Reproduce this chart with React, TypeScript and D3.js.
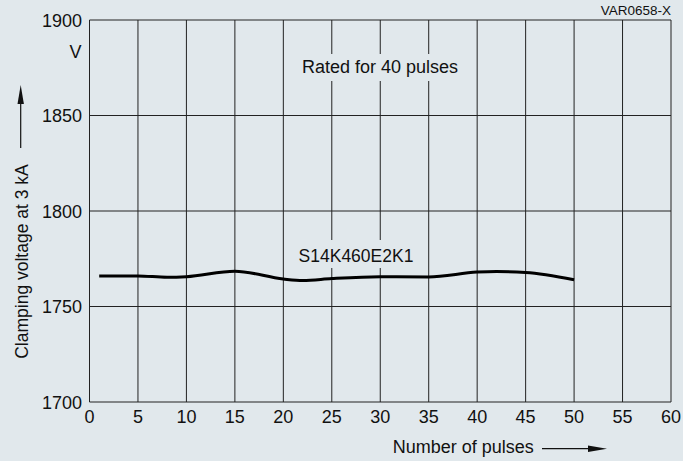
import React from "react";
import * as d3 from "d3";

const pulses = [1, 5, 8, 10, 15, 20, 22, 25, 30, 35, 40, 42, 45, 50];
const voltages = [1766, 1766, 1765.3, 1765.6, 1768.5, 1764.4, 1763.6, 1764.6, 1765.6, 1765.5, 1768, 1768.3, 1767.8, 1764];
const xTicks = [0, 5, 10, 15, 20, 25, 30, 35, 40, 45, 50, 55, 60];
const yTicks = [1700, 1750, 1800, 1850, 1900];

const W = 683;
const H = 461;
const BG = "#e1e8ec";
const FONT = "'Liberation Sans', Arial, sans-serif";

export default function App() {
  const x = d3.scaleLinear().domain([0, 60]).range([89.5, 671]);
  const y = d3.scaleLinear().domain([1700, 1900]).range([402, 20]);
  const line = d3
    .line<number>()
    .x((_, i) => x(pulses[i]))
    .y((d) => y(d))
    .curve(d3.curveMonotoneX);
  const path = line(voltages) || "";
  return (
    <svg width={W} height={H} style={{ position: "absolute", left: 0, top: 0 }}>
      <rect x={0} y={0} width={W} height={H} fill={BG} />
      {xTicks.map((t) => (
        <line key={"vx" + t} x1={x(t)} x2={x(t)} y1={y(1700)} y2={y(1900)} stroke="#222" strokeWidth={1} />
      ))}
      {yTicks.map((t) => (
        <line key={"hy" + t} x1={x(0)} x2={x(60)} y1={y(t)} y2={y(t)} stroke="#222" strokeWidth={1} />
      ))}
      {yTicks.map((t) => (
        <text key={"yl" + t} x={82} y={y(t) + 6.7} textAnchor="end" fontFamily={FONT} fontSize={18} fill="#111">
          {t}
        </text>
      ))}
      {xTicks.map((t) => (
        <text key={"xl" + t} x={x(t)} y={423} textAnchor="middle" fontFamily={FONT} fontSize={18} fill="#111">
          {t}
        </text>
      ))}
      <text x={81.5} y={58.3} textAnchor="end" fontFamily={FONT} fontSize={18} fill="#111">V</text>
      <rect x={299} y={54} width={161} height={27} fill={BG} />
      <text x={380} y={73.3} textAnchor="middle" fontFamily={FONT} fontSize={18} fill="#111">Rated for 40 pulses</text>
      <rect x={295} y={240} width={122} height={28} fill={BG} />
      <text x={356} y={261.7} textAnchor="middle" fontFamily={FONT} fontSize={17.5} fill="#111">S14K460E2K1</text>
      <path d={path} fill="none" stroke="#000" strokeWidth={3} />
      <text x={671} y={15} textAnchor="end" fontFamily={FONT} fontSize={13.5} fill="#111">VAR0658-X</text>
      <text x={392.7} y={453.3} textAnchor="start" fontFamily={FONT} fontSize={18} fill="#111">Number of pulses</text>
      <line x1={542} x2={592} y1={448.7} y2={448.7} stroke="#111" strokeWidth={1.2} />
      <path d="M607,448.7 L588,445.5 L588,451.9 Z" fill="#111" />
      <text transform="translate(28.3,261.5) rotate(-90)" textAnchor="middle" fontFamily={FONT} fontSize={17.5} fill="#111">
        Clamping voltage at 3 kA
      </text>
      <line x1={20.7} x2={20.7} y1={148} y2={100} stroke="#111" strokeWidth={1.2} />
      <path d="M20.7,85 L17.5,104 L23.9,104 Z" fill="#111" />
    </svg>
  );
}
